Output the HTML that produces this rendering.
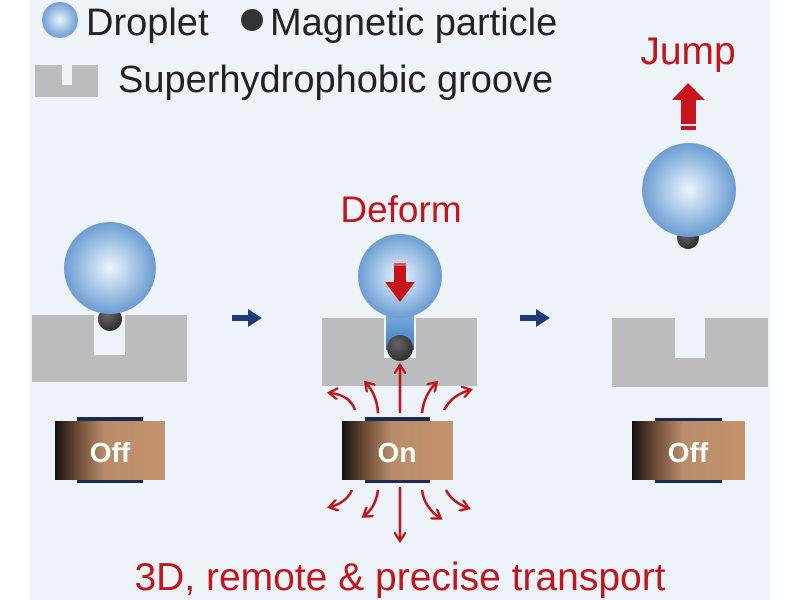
<!DOCTYPE html>
<html><head><meta charset="utf-8"><style>
html,body{margin:0;padding:0;background:#fff;}
svg{display:block;font-family:"Liberation Sans",Arial,sans-serif;}
</style></head><body>
<svg width="800" height="600" viewBox="0 0 800 600" xmlns="http://www.w3.org/2000/svg">
<defs>
<radialGradient id="drop" cx="0.5" cy="0.5" r="0.55">
<stop offset="0" stop-color="#eef5fc"/><stop offset="0.55" stop-color="#9dc0e4"/><stop offset="1" stop-color="#5f93cc"/></radialGradient>
<linearGradient id="neck" x1="0" y1="0" x2="0" y2="1"><stop offset="0" stop-color="#9dc0e4"/><stop offset="1" stop-color="#3f7fc7"/></linearGradient>
<linearGradient id="mag" x1="0" y1="0" x2="1" y2="0">
<stop offset="0" stop-color="#111"/><stop offset="0.2" stop-color="#6b4a33"/><stop offset="0.45" stop-color="#b98c6a"/><stop offset="1" stop-color="#c4936c"/></linearGradient>
<radialGradient id="part" cx="0.4" cy="0.35" r="0.7"><stop offset="0" stop-color="#666"/><stop offset="1" stop-color="#2a2a2a"/></radialGradient>
<marker id="ah" markerWidth="12" markerHeight="12" refX="8" refY="6" orient="auto" markerUnits="userSpaceOnUse"><path d="M0,0 L9,6 L0,12" fill="none" stroke="#c0161c" stroke-width="2.4"/></marker>
</defs>
<rect x="30" y="0" width="740" height="600" fill="#eef2f9"/>
<!-- legend -->
<circle cx="60" cy="20" r="18" fill="url(#drop)"/>
<text x="86" y="35" font-size="38" fill="#222">Droplet</text>
<circle cx="252" cy="20" r="11" fill="#333"/>
<text x="270" y="35" font-size="38" fill="#222">Magnetic particle</text>
<path d="M35,65 H62 V85 H72 V65 H98 V97 H35 Z" fill="#bbbcbe"/>
<text x="118" y="92" font-size="38" fill="#222">Superhydrophobic groove</text>
<!-- left -->
<path d="M32,315 H94 V355 H125 V315 H187 V382 H32 Z" fill="#bbbcbe"/>
<circle cx="110" cy="319" r="12" fill="url(#part)"/>
<circle cx="110" cy="268" r="46" fill="url(#drop)"/>
<rect x="77" y="417" width="66" height="66" fill="#1c2a55"/>
<rect x="55" y="421" width="110" height="59" fill="url(#mag)"/>
<text x="110" y="462" font-size="28" font-weight="bold" fill="#fff" text-anchor="middle">Off</text>
<!-- blue arrows -->
<path d="M232,318 H250" stroke="#1d3d78" stroke-width="6"/><path d="M248,309 L262,318 L248,327 Z" fill="#1d3d78"/>
<path d="M520,318 H538" stroke="#1d3d78" stroke-width="6"/><path d="M536,309 L550,318 L536,327 Z" fill="#1d3d78"/>
<!-- middle -->
<path d="M322,318 H384 V358 H416 V318 H477 V386 H322 Z" fill="#bbbcbe"/>
<rect x="386" y="295" width="28" height="55" fill="url(#neck)"/>
<circle cx="400" cy="276" r="42" fill="url(#drop)"/>
<circle cx="400" cy="348" r="13" fill="url(#part)"/>
<path d="M394,263 V282 H385 L400,302 L415,282 H406 V263 Z" fill="#c8141b"/>
<rect x="394" y="263" width="12" height="3" fill="#e35555"/>
<text x="401" y="222" font-size="37" fill="#c0161c" text-anchor="middle">Deform</text>
<rect x="365" y="417" width="65" height="66" fill="#1c2a55"/>
<rect x="342" y="421" width="111" height="59" fill="url(#mag)"/>
<text x="397" y="462" font-size="28" font-weight="bold" fill="#fff" text-anchor="middle">On</text>
<g stroke="#c0161c" stroke-width="2.6" fill="none" marker-end="url(#ah)">
<path d="M400,413 V366"/>
<path d="M378,413 Q377,395 366,383"/>
<path d="M355,410 Q350,395 330,393"/>
<path d="M422,413 Q424,395 436,383"/>
<path d="M444,410 Q452,395 470,390"/>
<path d="M400,487 V540"/>
<path d="M378,490 Q376,507 364,516"/>
<path d="M352,490 Q346,503 330,507"/>
<path d="M422,490 Q424,507 440,518"/>
<path d="M446,490 Q452,502 468,508"/>
</g>
<!-- right -->
<path d="M612,318 H675 V358 H705 V318 H768 V387 H612 Z" fill="#bbbcbe"/>
<circle cx="688" cy="238" r="11" fill="url(#part)"/>
<circle cx="689" cy="190" r="47" fill="url(#drop)"/>
<path d="M681,130 V100 H672 L688,83 L705,100 H696 V130 Z" fill="#c8141b"/>
<rect x="681" y="124" width="15" height="2" fill="#eef2f9"/>
<text x="688" y="64" font-size="39" fill="#c0161c" text-anchor="middle">Jump</text>
<rect x="655" y="418" width="67" height="65" fill="#1c2a55"/>
<rect x="632" y="421" width="113" height="59" fill="url(#mag)"/>
<text x="688" y="462" font-size="28" font-weight="bold" fill="#fff" text-anchor="middle">Off</text>
<text x="400" y="590" font-size="39" fill="#c0161c" text-anchor="middle">3D, remote &amp; precise transport</text>
</svg>
</body></html>
